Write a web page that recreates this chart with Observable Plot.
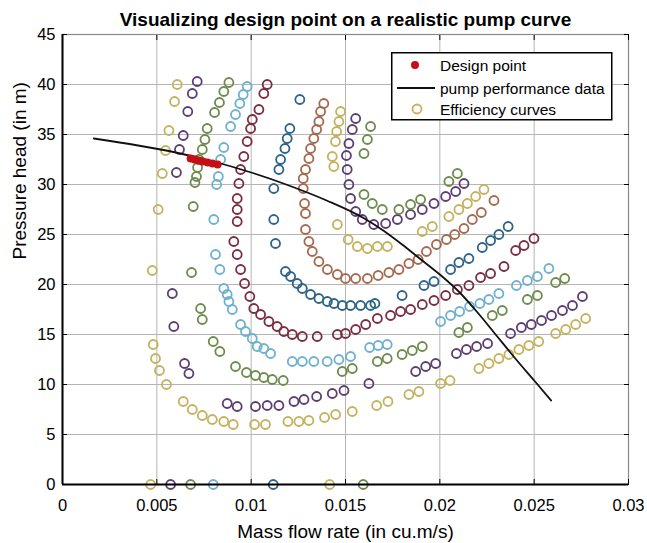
<!DOCTYPE html>
<html><head><meta charset="utf-8">
<script src="https://cdn.jsdelivr.net/npm/d3@7"></script>
<script src="https://cdn.jsdelivr.net/npm/@observablehq/plot@0.6"></script>
<style>
body{margin:0;background:#fff;}
#wrap{position:relative;width:647px;height:543px;font-family:"Liberation Sans",Arial,sans-serif;}
#legend{position:absolute;left:391px;top:52px;}
</style></head><body>
<div id="wrap"><div id="chart"></div>
<svg id="legend" width="222" height="69" font-family="Liberation Sans, Arial, sans-serif" font-size="15.5">
  <rect x="0.75" y="0.75" width="220" height="67" fill="#fff" stroke="#000" stroke-width="1.5"/>
  <circle cx="24" cy="13" r="4" fill="#c40f17"/>
  <text x="49" y="13" dominant-baseline="central">Design point</text>
  <line x1="6" x2="44" y1="36" y2="36" stroke="#111" stroke-width="1.8"/>
  <text x="49" y="36" dominant-baseline="central">pump performance data</text>
  <circle cx="26" cy="57" r="4.5" fill="none" stroke="#c4b25e" stroke-width="1.8"/>
  <text x="49" y="57" dominant-baseline="central">Efficiency curves</text>
</svg></div>
<script>
const titleText = "Visualizing design point on a realistic pump curve";
const xLabel = "Mass flow rate (in cu.m/s)";
const yLabel = "Pressure head (in m)";
const xTicks = [0, 0.005, 0.01, 0.015, 0.02, 0.025, 0.03];
const yTicks = [0, 5, 10, 15, 20, 25, 30, 35, 40, 45];

// design point (red)
const designQ = [0.00679, 0.0070, 0.00721, 0.00742, 0.00769, 0.00795, 0.00822];
const designH = [32.6, 32.5, 32.4, 32.3, 32.2, 32.1, 32.0];

// pump performance data (black line)
const pumpQ = [0.00166, 0.004, 0.006, 0.008, 0.010, 0.012, 0.014, 0.016, 0.017, 0.018, 0.019, 0.020, 0.021, 0.022, 0.023, 0.024, 0.025, 0.0259];
const pumpH = [34.6, 33.9, 33.2, 32.3, 31.2, 29.9, 28.4, 26.6, 25.4, 24.0, 22.5, 21.0, 19.3, 17.2, 14.9, 12.6, 10.4, 8.4];

// efficiency curves: [flow, head]
const eff1 = [[0.00467,0],[0.00608,40.0],[0.00594,38.3],[0.00564,35.4],[0.00546,33.4],[0.00529,31.1],[0.00507,27.5],[0.00476,21.4],[0.00481,14.0],[0.00493,12.6],[0.00514,11.4],[0.00551,10.0],[0.0064,8.3],[0.00688,7.5],[0.00741,6.9],[0.00794,6.5],[0.00855,6.3],[0.00905,6.0],[0.01018,6.0],[0.01076,6.0],[0.01195,6.3],[0.01253,6.3],[0.01306,6.4],[0.01389,6.7],[0.01448,7.0],[0.01536,7.3],[0.01665,7.9],[0.01725,8.3],[0.01836,9.0],[0.01889,9.3],[0.02004,10.1],[0.02054,10.4],[0.02207,11.6],[0.0226,12.1],[0.02313,12.6],[0.02366,13.0],[0.02419,13.5],[0.02472,13.9],[0.02524,14.3],[0.02614,15.1],[0.02667,15.5],[0.0272,16.0],[0.02773,16.6]];
const eff2 = [[0.00573,0],[0.00714,40.3],[0.00688,39.1],[0.00664,37.3],[0.0064,34.9],[0.0062,33.5],[0.00604,31.2],[0.00582,19.1],[0.0059,15.8],[0.00647,12.1],[0.0067,11.1],[0.00873,8.1],[0.00926,7.8],[0.01023,7.8],[0.01085,7.9],[0.01147,7.9],[0.01227,8.3],[0.0128,8.5],[0.01347,8.8],[0.0143,9.1],[0.01492,9.4],[0.01624,10.1],[0.01872,11.3],[0.01925,11.8],[0.01978,12.1],[0.02088,13.1],[0.02141,13.5],[0.02195,13.8],[0.02253,14.1],[0.02375,15.1],[0.02432,15.7],[0.02485,16.0],[0.02539,16.4],[0.02592,16.9],[0.0265,17.4],[0.02703,17.9],[0.02756,18.8]];
const eff3 = [[0.00679,0],[0.00882,40.2],[0.00855,39.3],[0.00832,38.2],[0.00806,37.2],[0.00767,35.6],[0.00755,34.5],[0.00741,33.5],[0.00723,32.5],[0.00716,31.7],[0.0071,30.8],[0.00702,30.2],[0.00693,27.8],[0.00684,21.2],[0.00732,17.6],[0.00741,16.5],[0.00799,14.3],[0.00834,13.3],[0.00917,11.8],[0.00975,11.2],[0.01023,10.9],[0.01067,10.7],[0.01112,10.5],[0.0117,10.4],[0.01483,11.3],[0.01536,11.6],[0.01669,12.3],[0.01721,12.6],[0.018,13.0],[0.01854,13.4],[0.01907,13.8],[0.02101,15.2],[0.02146,15.7],[0.02278,16.9],[0.02331,17.4],[0.02464,18.5],[0.02517,18.9],[0.02614,20.2],[0.02662,20.6]];
const eff4 = [[0.00799,0],[0.00979,39.8],[0.00958,39.0],[0.0094,38.1],[0.00917,37.0],[0.00891,35.8],[0.00855,33.7],[0.00838,32.5],[0.00826,30.8],[0.00817,30.0],[0.00802,26.5],[0.00811,23.0],[0.00834,21.5],[0.00855,19.6],[0.00873,19.0],[0.00882,18.3],[0.009,17.5],[0.00944,16.0],[0.0097,15.3],[0.01006,14.6],[0.01032,13.8],[0.01067,13.6],[0.01103,13.1],[0.01218,12.3],[0.01271,12.3],[0.01332,12.3],[0.01403,12.3],[0.01465,12.5],[0.01527,12.8],[0.01628,13.7],[0.01673,13.9],[0.01721,14.0],[0.02004,16.3],[0.02057,16.9],[0.02105,17.3],[0.02158,17.8],[0.02212,18.1],[0.0226,18.5],[0.02313,19.1],[0.02406,19.9],[0.02464,20.4],[0.02517,20.8],[0.02578,21.6]];
const eff5 = [[0.01085,40.0],[0.01067,39.1],[0.01041,37.5],[0.01006,36.5],[0.00997,35.6],[0.00979,34.3],[0.00961,32.8],[0.00944,31.5],[0.00935,30.1],[0.00926,28.6],[0.00926,27.5],[0.00926,26.3],[0.00908,24.3],[0.00926,23.0],[0.00944,21.5],[0.00965,20.1],[0.00993,18.8],[0.01014,17.6],[0.0105,17.0],[0.01094,16.3],[0.01138,15.8],[0.01173,15.3],[0.01218,15.0],[0.01271,14.8],[0.0135,14.8],[0.01457,15.0],[0.015,15.1],[0.01554,15.5],[0.01607,16.0],[0.01669,16.6],[0.01739,16.9],[0.01792,17.3],[0.01845,17.5],[0.01907,18.0],[0.01969,18.4],[0.02031,18.9],[0.02093,19.5],[0.02154,19.9],[0.02216,20.7],[0.02269,21.1],[0.0234,21.8],[0.02402,23.4],[0.02446,23.9],[0.02499,24.6]];
const eff6 = [[0.01117,0],[0.01258,38.5],[0.01205,35.6],[0.01191,34.6],[0.01179,33.6],[0.01156,32.5],[0.01147,31.5],[0.0112,29.6],[0.0112,26.5],[0.01129,24.1],[0.01182,21.3],[0.01209,20.8],[0.01244,20.1],[0.01271,19.6],[0.01315,19.0],[0.01359,18.6],[0.01404,18.3],[0.01439,18.1],[0.01483,17.9],[0.01527,17.9],[0.0158,17.9],[0.01633,17.9],[0.01656,18.1],[0.018,18.9],[0.01916,19.9],[0.01969,20.3],[0.02057,21.5],[0.02101,22.2],[0.02154,22.6],[0.02225,23.7],[0.02269,24.4],[0.02313,25.0],[0.02362,25.8]];
const eff7 = [[0.01385,38.1],[0.01368,37.3],[0.01359,36.3],[0.01347,35.5],[0.01332,34.6],[0.01315,33.6],[0.01306,32.6],[0.01288,31.5],[0.01276,30.6],[0.01276,29.6],[0.01283,28.1],[0.01288,27.1],[0.01288,25.5],[0.01306,24.3],[0.01324,23.3],[0.01359,22.3],[0.01404,21.5],[0.01457,21.0],[0.015,20.6],[0.01554,20.6],[0.01616,20.6],[0.01673,20.9],[0.0173,21.2],[0.01783,21.5],[0.01836,22.1],[0.01885,22.5],[0.01929,23.3],[0.01982,24.0],[0.02035,24.5],[0.02079,25.0],[0.02128,25.6],[0.02172,26.5],[0.0222,27.2],[0.02287,28.4]];
const eff8 = [[0.01416,0],[0.01474,37.3],[0.01465,36.3],[0.01453,35.3],[0.01447,34.3],[0.0143,32.8],[0.01438,31.8],[0.01457,26.0],[0.01514,24.5],[0.01563,23.8],[0.01616,23.6],[0.01669,23.8],[0.01722,23.8],[0.01907,25.3],[0.0196,25.8],[0.02048,26.8],[0.02101,27.5],[0.02146,28.1],[0.0219,28.8],[0.02234,29.5]];
const eff9 = [[0.01554,36.6],[0.01536,35.5],[0.01518,34.1],[0.01505,32.9],[0.01509,31.5],[0.01518,30.0],[0.01527,28.6],[0.01554,27.3],[0.01589,26.5],[0.0165,26.0],[0.01713,26.1],[0.01775,26.5],[0.01845,27.0],[0.01907,27.5],[0.01969,28.1],[0.02031,28.8],[0.02084,29.3],[0.02128,30.1]];
const eff10 = [[0.01594,0],[0.01633,35.8],[0.01616,34.5],[0.01598,33.1],[0.01598,29.0],[0.01642,28.1],[0.01695,27.5],[0.01783,27.5],[0.01845,28.0],[0.01898,28.5],[0.02048,30.3],[0.02093,31.1]];
const effCurves = [eff1, eff2, eff3, eff4, eff5, eff6, eff7, eff8, eff9, eff10];
const effColors = ["#c4b25e", "#5b3f73", "#6e8b4e", "#6fb0cf", "#7a2e42", "#2e6489", "#a46a50", "#c4b25e", "#5b3f73", "#6e8b4e"];

const effRows = effCurves.flatMap((pts, i) => pts.map(([q, h]) => ({q, h, curve: i})));
const pumpRows = pumpQ.map((q, i) => ({q, h: pumpH[i]}));
const designRows = designQ.map((q, i) => ({q, h: designH[i]}));
const fmtX = d => String(+d.toFixed(3));

const chart = Plot.plot({
  width: 647, height: 543,
  marginLeft: 62, marginRight: 19, marginTop: 34, marginBottom: 59,
  style: {fontFamily: "Liberation Sans, Arial, sans-serif", background: "#fff", color: "#000"},
  x: {domain: [0, 0.03]},
  y: {domain: [0, 45]},
  color: {type: "ordinal", domain: d3.range(effCurves.length), range: effColors},
  marks: [
    Plot.gridX(xTicks, {stroke: "#b5b5b5", strokeOpacity: 1}),
    Plot.gridY(yTicks, {stroke: "#b5b5b5", strokeOpacity: 1}),
    Plot.frame({stroke: "#8a8a8a", strokeWidth: 1.2}),
    Plot.dot(effRows, {x: "q", y: "h", stroke: "curve", r: 4.5, strokeWidth: 1.8}),
    Plot.line(pumpRows, {x: "q", y: "h", stroke: "#111", strokeWidth: 1.8, curve: "monotone-x"}),
    Plot.dot(designRows, {x: "q", y: "h", fill: "#c40f17", r: 4}),
    Plot.ruleY([0], {stroke: "#000", strokeWidth: 2}),
    Plot.ruleX([0], {stroke: "#000", strokeWidth: 2}),
    Plot.axisX(xTicks, {anchor: "bottom", tickSize: -5, tickPadding: 20, tickFormat: fmtX, fontSize: 16.5, label: null}),
    Plot.axisX(xTicks, {anchor: "top", tickSize: -5, tickFormat: () => "", label: null}),
    Plot.axisY(yTicks, {anchor: "left", tickSize: -5, tickPadding: 12, fontSize: 16.5, label: null}),
    Plot.axisY(yTicks, {anchor: "right", tickSize: -5, tickFormat: () => "", label: null}),
    Plot.text([xLabel], {frameAnchor: "bottom", dy: 53, lineAnchor: "bottom", fontSize: 19}),
    Plot.text([yLabel], {frameAnchor: "left", dx: -37, rotate: -90, lineAnchor: "bottom", fontSize: 19}),
    Plot.text([titleText], {frameAnchor: "top", dy: -9, lineAnchor: "bottom", fontSize: 19, fontWeight: "bold"})
  ]
});
document.getElementById("chart").appendChild(chart);
</script>
</body></html>
